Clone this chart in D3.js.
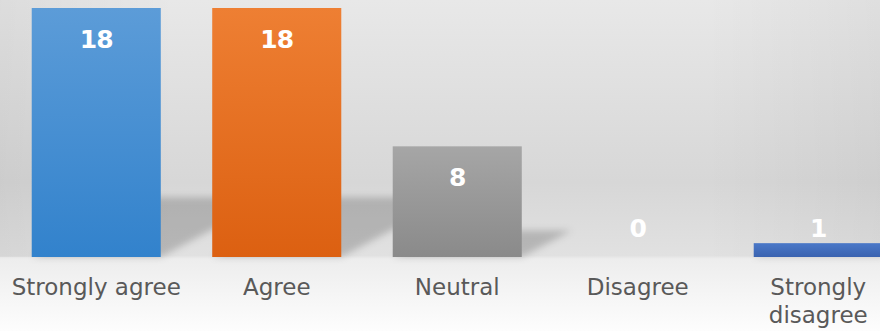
<!DOCTYPE html>
<html>
<head>
<meta charset="utf-8">
<script src="https://cdn.jsdelivr.net/npm/d3@7"></script>
<style>
  html, body { margin: 0; padding: 0; background: #fff; }
  svg { display: block; }
</style>
</head>
<body>
<svg id="chart" width="880" height="331"></svg>
<script>
// ---- data ----
const categories = ["Strongly agree", "Agree", "Neutral", "Disagree", "Strongly disagree"];
const values = [18, 18, 8, 0, 1];
const labelLines = [["Strongly agree"], ["Agree"], ["Neutral"], ["Disagree"], ["Strongly", "disagree"]];
const topColors = ["#5c9cd8", "#ee7f33", "#a6a6a6", "#4a78c8", "#4a78c8"];
const bottomColors = ["#3282cc", "#dc6011", "#8a8a8a", "#3a63b0", "#3a63b0"];

const W = 880, H = 331;
const svg = d3.select("#chart");
const defs = svg.append("defs");

// background
const bg = defs.append("linearGradient").attr("id", "bg").attr("x1", 0).attr("y1", 0).attr("x2", 0).attr("y2", 1);
[[0, "#e8e8e8"], [0.55, "#d7d7d7"], [0.772, "#e1e1e1"], [0.782, "#ededed"], [1, "#fdfdfd"]]
  .forEach(([o, c]) => bg.append("stop").attr("offset", o).attr("stop-color", c));
svg.append("rect").attr("width", W).attr("height", H).attr("fill", "url(#bg)");
const vign = defs.append("linearGradient").attr("id", "vign").attr("x1", 0).attr("y1", 0).attr("x2", 1).attr("y2", 0);
[[0, 0.05], [0.2, 0], [0.8, 0], [1, 0.04]]
  .forEach(([o, a]) => vign.append("stop").attr("offset", o).attr("stop-color", "#000").attr("stop-opacity", a));
svg.append("rect").attr("width", W).attr("height", 257).attr("fill", "url(#vign)");

// scales
const x = d3.scaleBand().domain(categories).range([6, 908.5]).paddingInner(0.285).paddingOuter(0.1425);
const y = d3.scaleLinear().domain([0, 18]).range([257, 8]);

// shadow
defs.append("filter").attr("id", "blur").attr("x", "-50%").attr("y", "-50%").attr("width", "200%").attr("height", "200%")
  .append("feGaussianBlur").attr("stdDeviation", 3.5);
const sh = svg.append("g").attr("filter", "url(#blur)");
categories.forEach((c, i) => {
  const h = y(0) - y(values[i]);
  if (h <= 0) return;
  const x0 = x(c), x1 = x(c) + x.bandwidth(), b = y(0);
  const s = h * 0.24, k = h * 0.45;
  sh.append("path")
    .attr("d", `M${x0},${b}L${x1},${b}L${x1 + k},${b - s}L${x0 + k},${b - s}Z`)
    .attr("fill", "#000").attr("fill-opacity", 0.19);
});

// bars
categories.forEach((c, i) => {
  const g = defs.append("linearGradient").attr("id", "g" + i).attr("x1", 0).attr("y1", 0).attr("x2", 0).attr("y2", 1);
  g.append("stop").attr("offset", 0).attr("stop-color", topColors[i]);
  g.append("stop").attr("offset", 1).attr("stop-color", bottomColors[i]);
});
svg.append("g").selectAll("rect").data(categories).join("rect")
  .attr("x", d => x(d))
  .attr("y", (d, i) => y(values[i]))
  .attr("width", x.bandwidth())
  .attr("height", (d, i) => y(0) - y(values[i]))
  .attr("fill", (d, i) => `url(#g${i})`);

// value labels
svg.append("g").selectAll("text").data(categories).join("text")
  .attr("x", d => x(d) + x.bandwidth() / 2)
  .attr("y", (d, i) => Math.min(y(values[i]) + 40, y(0) - 20))
  .attr("text-anchor", "middle")
  .attr("font-family", "'DejaVu Sans', sans-serif")
  .attr("font-weight", "bold")
  .attr("font-size", 25)
  .attr("letter-spacing", -1)
  .attr("fill", "#ffffff")
  .text((d, i) => values[i]);

// category labels (axis)
const axis = d3.axisBottom(x).tickSize(0).tickPadding(0).tickFormat(() => "");
const ax = svg.append("g").attr("transform", `translate(0,${y(0)})`).call(axis);
ax.select(".domain").remove();
ax.selectAll(".tick").each(function(d, i) {
  const t = d3.select(this).append("text")
    .attr("text-anchor", "middle")
    .attr("font-family", "'DejaVu Sans', sans-serif")
    .attr("font-size", 23)
    .attr("fill", "#595959");
  labelLines[i].forEach((ln, j) => {
    t.append("tspan").attr("x", 0).attr("y", 38 + j * 28).text(ln);
  });
});
</script>
</body>
</html>
